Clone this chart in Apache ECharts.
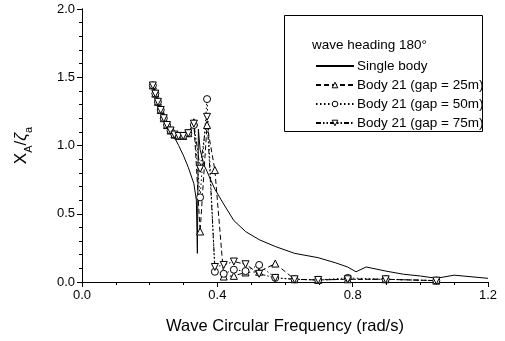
<!DOCTYPE html>
<html><head><meta charset="utf-8">
<script src="https://cdn.jsdelivr.net/npm/echarts@6/dist/echarts.min.js"></script>
<style>html,body{margin:0;padding:0;background:#fff}#c{width:505px;height:341px}</style>
</head><body><div id="c"></div>
<script>
// Frequencies for periods T = 30 ... 6 s (w = 2*pi/T)
const freq = [0.2094,0.2167,0.2244,0.2327,0.2417,0.2513,0.2618,0.2732,0.2856,0.2992,0.3142,0.3307,0.3491,0.3696,0.3927,0.4189,0.4488,0.4833,0.5236,0.5712,0.6283,0.6981,0.7854,0.8976,1.0472];
const gap25 = [1.44,1.38,1.32,1.26,1.20,1.15,1.11,1.08,1.07,1.07,1.09,1.17,0.37,1.15,0.82,0.04,0.045,0.07,0.075,0.135,0.02,0.015,0.02,0.02,0.01];
const gap50 = [1.44,1.38,1.32,1.26,1.20,1.15,1.11,1.08,1.07,1.07,1.09,1.15,0.62,1.34,0.075,0.06,0.09,0.08,0.125,0.03,0.02,0.015,0.03,0.02,0.01];
const gap75 = [1.44,1.38,1.32,1.26,1.20,1.15,1.11,1.08,1.07,1.07,1.09,1.16,0.83,1.21,0.11,0.125,0.15,0.13,0.06,0.03,0.02,0.015,0.02,0.02,0.01];
const singleX = [0.2094,0.2244,0.2417,0.2618,0.2732,0.2856,0.2992,0.3142,0.3307,0.338,0.341,0.344,0.3491,0.36,0.3696,0.38,0.3927,0.4189,0.4488,0.4833,0.5236,0.5712,0.6283,0.6981,0.75,0.785,0.81,0.84,0.898,0.95,1.0,1.047,1.1,1.2];
const singleY = [1.45,1.33,1.21,1.11,1.06,1.00,0.93,0.84,0.72,0.60,0.21,1.12,0.97,0.86,0.81,0.75,0.68,0.57,0.45,0.37,0.31,0.26,0.21,0.178,0.14,0.11,0.075,0.11,0.08,0.057,0.044,0.027,0.05,0.027];
const xTicks = {min:0, max:1.2, interval:0.4};
const yTicks = {min:0, max:2.0, interval:0.5};

const pairs = (xs, ys) => xs.map((x,i)=>[x, ys[i]]);
const font = 'Liberation Sans, Arial, sans-serif';
const chart = echarts.init(document.getElementById('c'));
const axisCommon = {
  axisLine:{lineStyle:{color:'#000',width:1}},
  splitLine:{show:false},
};
const mk = (name, data, sym, rot, ltype) => ({
  name, type:'line', data, symbol:sym, symbolSize:7, symbolRotate:rot,
  lineStyle:{color:'#000', width:1, type:ltype},
  itemStyle:{color:'#fff', borderColor:'#000', borderWidth:1},
  animation:false, z:3
});
const hollow = {color:'#fff', borderColor:'#000', borderWidth:1};
chart.setOption({
  animation:false,
  grid:{left:82, right:17, top:9, bottom:59},
  xAxis:[
    Object.assign({type:'value', position:'bottom', min:xTicks.min, max:xTicks.max, interval:xTicks.interval,
      axisTick:{show:true, inside:false, length:5, lineStyle:{color:'#000'}},
      minorTick:{show:true, splitNumber:4, length:3, lineStyle:{color:'#000'}},
      axisLabel:{color:'#000', fontSize:13, fontFamily:font, margin:7, formatter:v=>v.toFixed(1)},
      name:'Wave Circular Frequency (rad/s)', nameLocation:'middle', nameGap:36,
      nameTextStyle:{color:'#000', fontSize:16.5, fontFamily:font}}, axisCommon),
    Object.assign({type:'value', position:'top', min:xTicks.min, max:xTicks.max, interval:xTicks.interval,
      axisTick:{show:true, inside:true, length:5, lineStyle:{color:'#000'}},
      minorTick:{show:true, splitNumber:4, length:3, lineStyle:{color:'#000'}},
      axisLabel:{show:false}}, axisCommon)
  ],
  yAxis:[
    Object.assign({type:'value', position:'left', min:yTicks.min, max:yTicks.max, interval:yTicks.interval,
      axisTick:{show:true, inside:false, length:5, lineStyle:{color:'#000'}},
      minorTick:{show:true, splitNumber:5, length:3, lineStyle:{color:'#000'}},
      axisLabel:{color:'#000', fontSize:13, fontFamily:font, margin:7, formatter:v=>v.toFixed(1)},
      name:'{x|X}{s|A}{x|/}{z|ζ}{s|a}', nameLocation:'middle', nameGap:52, nameRotate:90,
      nameTextStyle:{color:'#000', fontFamily:font,
        rich:{
          x:{fontSize:17, fontFamily:font, color:'#000', lineHeight:22, verticalAlign:'bottom'},
          z:{fontSize:17, fontFamily:font, fontStyle:'italic', color:'#000', lineHeight:22, verticalAlign:'bottom'},
          s:{fontSize:11, fontFamily:font, color:'#000', lineHeight:11, verticalAlign:'bottom', padding:[0,0,-4,0]}
        }}}, axisCommon),
    Object.assign({type:'value', position:'right', min:yTicks.min, max:yTicks.max, interval:yTicks.interval,
      axisTick:{show:true, inside:true, length:5, lineStyle:{color:'#000'}},
      minorTick:{show:true, splitNumber:5, length:3, lineStyle:{color:'#000'}},
      axisLabel:{show:false}}, axisCommon)
  ],
  legend:{
    orient:'vertical', left:310, top:54, itemWidth:38, itemHeight:7, itemGap:5, z:20,
    textStyle:{color:'#000', fontSize:13.5, fontFamily:font, padding:[0,0,0,-2]},
    data:[{name:'Single body', itemStyle:{opacity:0}},
          {name:'Body 21 (gap = 25m)', itemStyle:hollow},
          {name:'Body 21 (gap = 50m)', itemStyle:hollow},
          {name:'Body 21 (gap = 75m)', itemStyle:hollow}]
  },
  graphic:[
    {type:'rect', shape:{x:284.5, y:15.5, width:198, height:116}, style:{fill:'#fff', stroke:'#000', lineWidth:1}, z:5},
    {type:'text', x:312, y:45, style:{text:'wave heading 180°', fill:'#000', font:'13.5px '+font, verticalAlign:'middle'}, z:6}
  ],
  series:[
    {name:'Single body', type:'line', data:pairs(singleX, singleY), symbol:'none',
     lineStyle:{color:'#000', width:1, type:'solid'}, itemStyle:{color:'#000'}, z:2},
    mk('Body 21 (gap = 25m)', pairs(freq, gap25), 'triangle', 0, [5,3]),
    mk('Body 21 (gap = 50m)', pairs(freq, gap50), 'circle', 0, [1.5,2.5]),
    mk('Body 21 (gap = 75m)', pairs(freq, gap75), 'triangle', 180, [5,2,1.5,2,1.5,2])
  ]
});
</script></body></html>
